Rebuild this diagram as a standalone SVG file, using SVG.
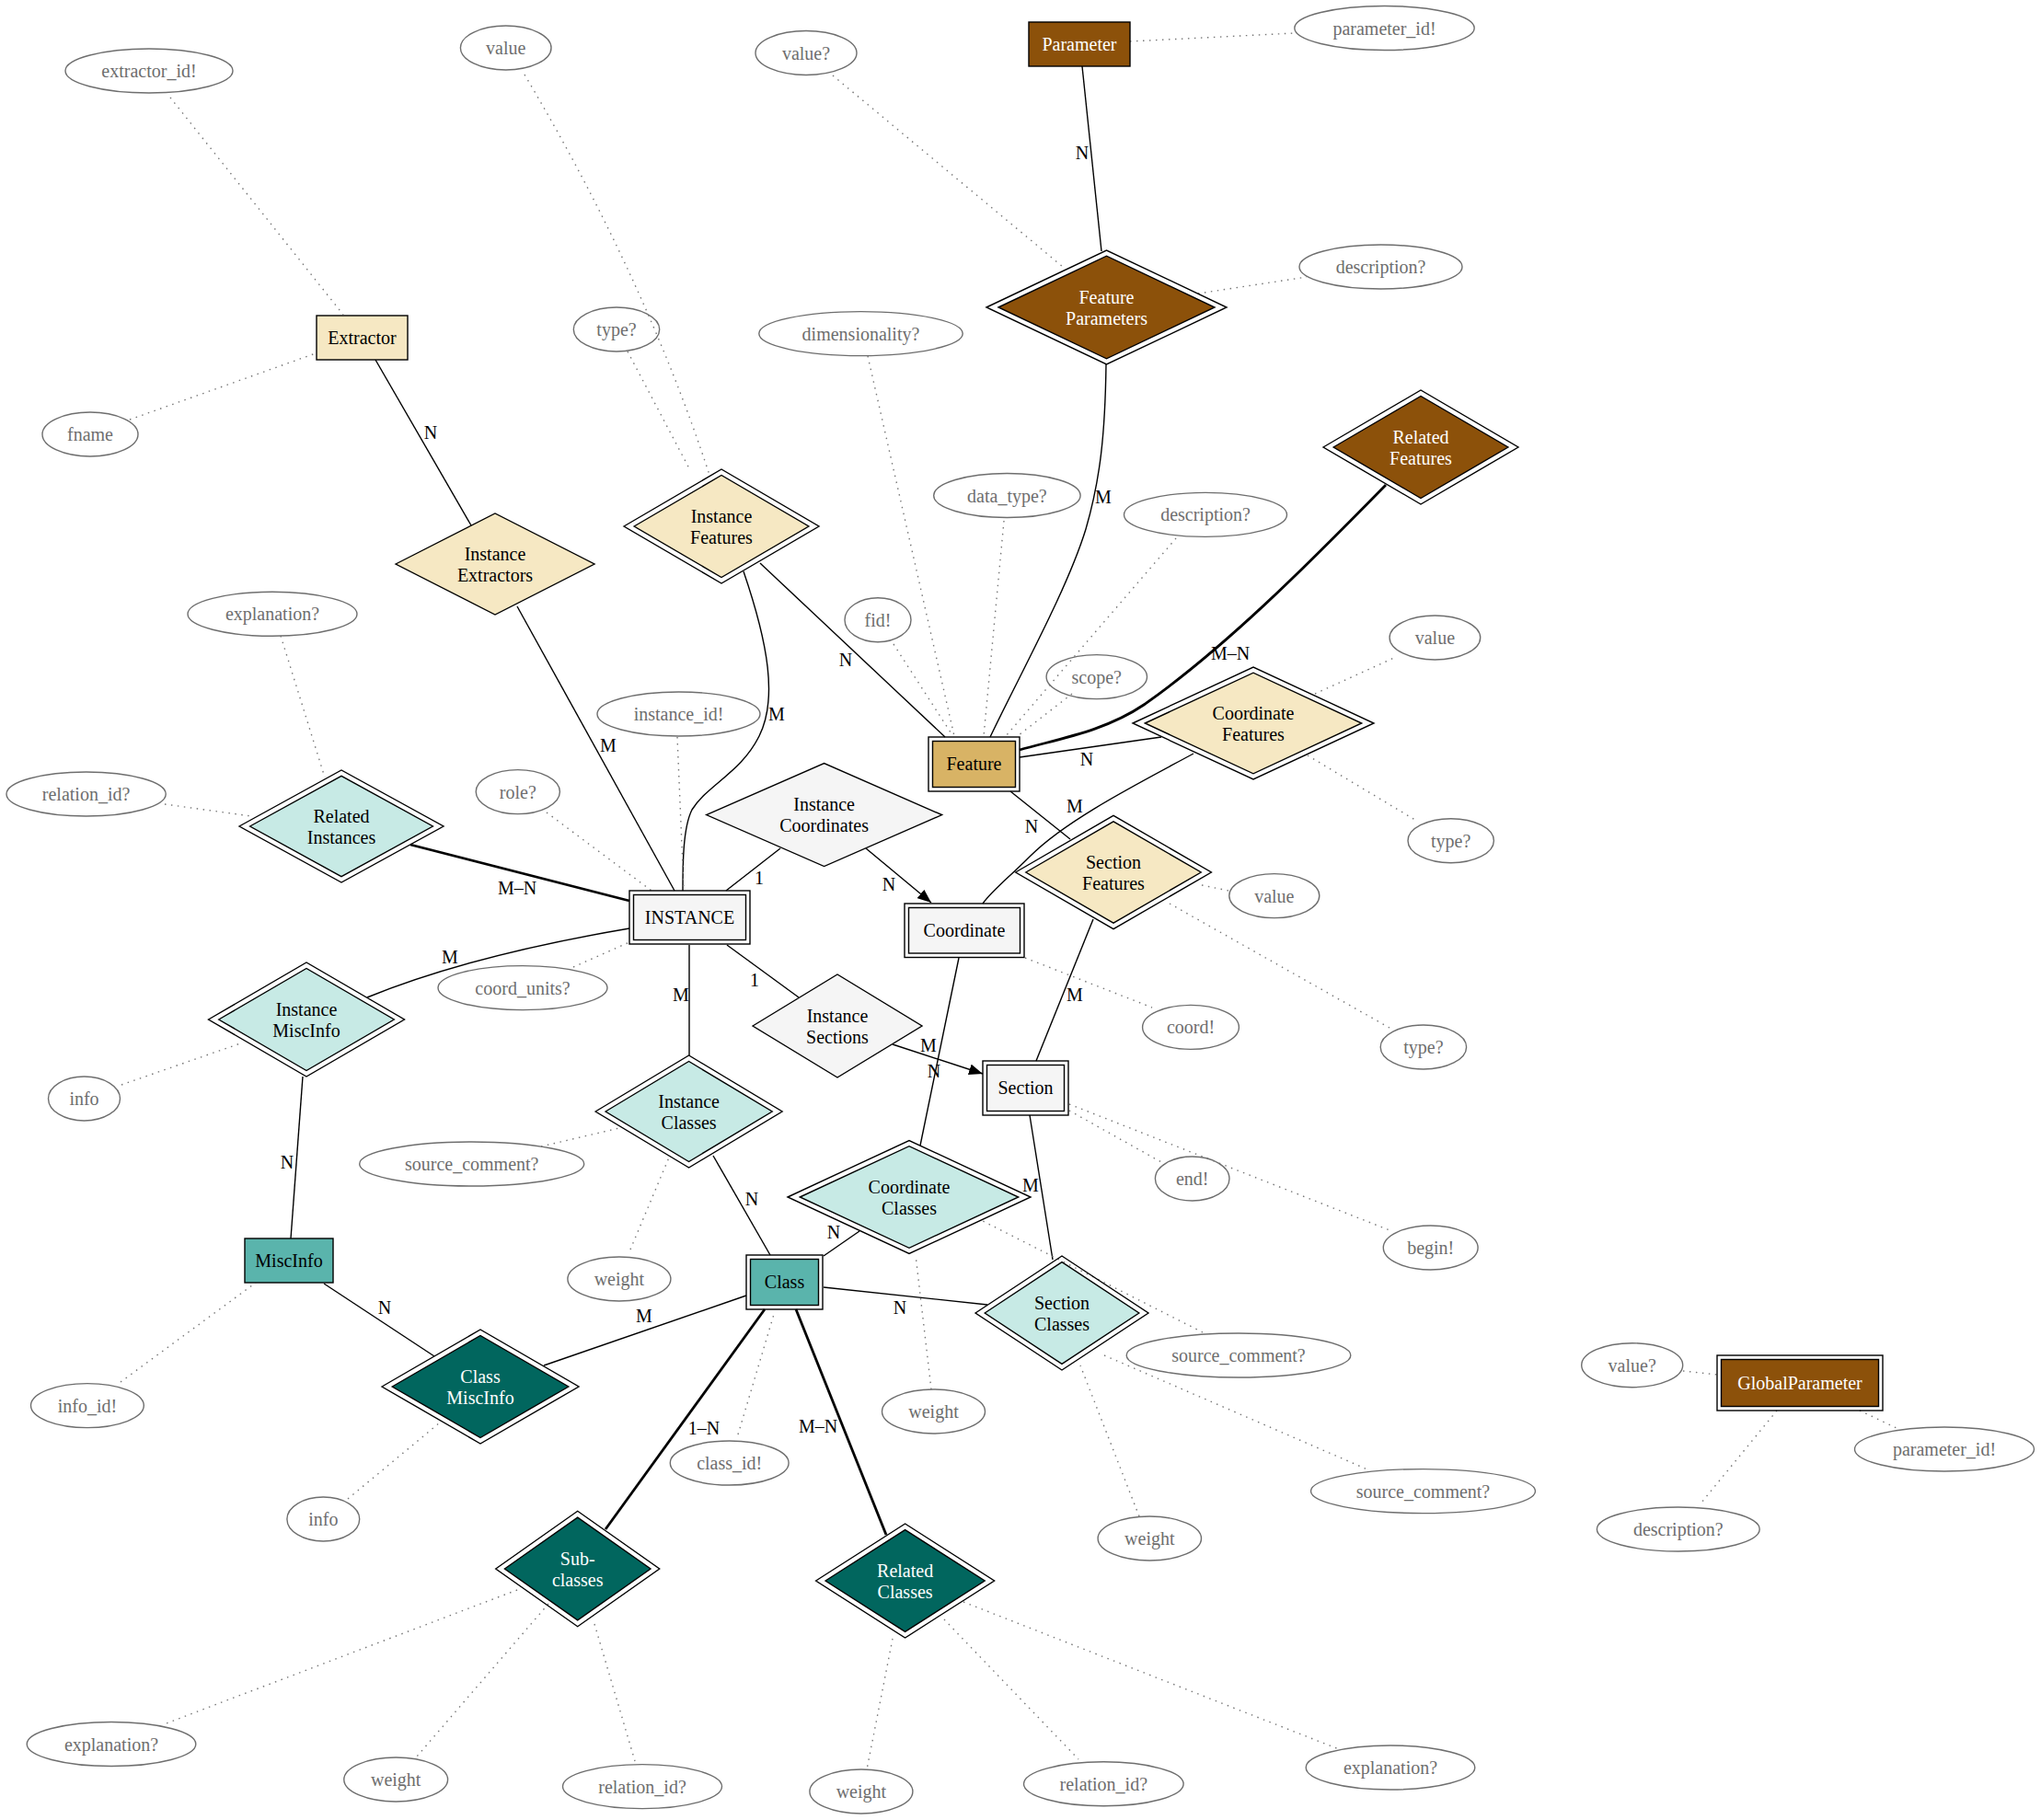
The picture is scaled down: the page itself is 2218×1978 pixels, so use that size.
<svg xmlns="http://www.w3.org/2000/svg" width="2218" height="1978" viewBox="0 0 2218 1978">
<style>
text{font-family:"Liberation Serif","Times New Roman",serif;font-size:20px;text-anchor:middle;fill:#000}
.w{fill:#fff}
.attr ellipse{fill:none;stroke:#6e6e6e;stroke-width:1.4}
.attr text{fill:#6e6e6e}
.n rect,.n polygon{stroke:#000;stroke-width:1.4}
.o{fill:none}
.e path{fill:none;stroke:#000;stroke-width:1.4}
.e path.b{stroke-width:2.8}
.e path.d{stroke:#777;stroke-width:1.4;stroke-dasharray:1.5 5.5}
.lbl text{fill:#000}
.brown{fill:#8c510a}.gold{fill:#d8b365}.wheat{fill:#f6e8c3}.gray{fill:#f5f5f5}.lteal{fill:#c7eae5}.teal{fill:#5ab4ac}.dteal{fill:#01665e}
</style>
<defs>
<marker id="arr" markerWidth="16" markerHeight="12" refX="15" refY="6" orient="auto" markerUnits="userSpaceOnUse"><path d="M0,0 L15,6 L0,12 z" fill="#000"/></marker>
</defs>
<rect width="2218" height="1978" fill="#fff"/>

<g id="connectors" class="e">
<!-- solid -->
<path d="M1176,72 L1197,273"/>
<path d="M1202,396 C1201,470 1196,520 1180,575 C1160,640 1110,730 1076,801"/>
<path d="M408,391 L512,571"/>
<path d="M562,659 L733,968"/>
<path d="M808,621 C835,700 845,760 825,800 C805,840 770,852 752,880 C742,900 742,940 742,968"/>
<path d="M826,612 L1027,801"/>
<path class="b" d="M1506,527 C1420,615 1330,705 1243,766 C1200,795 1150,803 1108,815"/>
<path d="M1262,801 L1108,823"/>
<path d="M1297,819 C1240,850 1160,890 1120,930 C1095,955 1078,968 1068,982"/>
<path d="M1098,860 L1163,912"/>
<path d="M1188,999 L1126,1153"/>
<path d="M848,922 L789,968"/>
<path d="M941,922 L1012,981" marker-end="url(#arr)"/>
<path d="M790,1027 L868,1084"/>
<path d="M970,1135 L1068,1167" marker-end="url(#arr)"/>
<path d="M1042,1041 L1000,1245"/>
<path d="M749,1027 L749,1147"/>
<path d="M399,1084 C470,1055 560,1030 684,1009"/>
<path class="b" d="M446,918 L684,979"/>
<path d="M329,1170 L316,1346"/>
<path d="M352,1395 L472,1474"/>
<path d="M591,1484 L811,1408"/>
<path d="M775,1256 L837,1364"/>
<path d="M934,1338 L895,1365"/>
<path d="M895,1399 L1073,1418"/>
<path d="M1119,1212 L1144,1369"/>
<path class="b" d="M831,1423 L658,1662"/>
<path class="b" d="M865,1423 L963,1668"/>
<!-- dotted -->
<path class="d" d="M185,106 L373,342"/>
<path class="d" d="M141,456 L343,384"/>
<path class="d" d="M570,81 Q700,300 771,516"/>
<path class="d" d="M682,382 L750,511"/>
<path class="d" d="M905,82 L1155,290"/>
<path class="d" d="M1228,45 L1407,36"/>
<path class="d" d="M1302,319 L1420,301"/>
<path class="d" d="M943,387 L1037,800"/>
<path class="d" d="M1091,566 L1069,800"/>
<path class="d" d="M1278,585 L1093,800"/>
<path class="d" d="M971,700 L1035,799"/>
<path class="d" d="M1165,754 L1107,799"/>
<path class="d" d="M736,801 L743,967"/>
<path class="d" d="M594,883 L708,968"/>
<path class="d" d="M623,1051 L684,1024"/>
<path class="d" d="M305,691 L353,845"/>
<path class="d" d="M179,874 L273,887"/>
<path class="d" d="M132,1179 L264,1133"/>
<path class="d" d="M588,1246 L673,1226"/>
<path class="d" d="M685,1358 L727,1258"/>
<path class="d" d="M131,1502 L278,1394"/>
<path class="d" d="M378,1629 L478,1546"/>
<path class="d" d="M802,1559 L842,1425"/>
<path class="d" d="M1012,1510 L995,1364"/>
<path class="d" d="M1307,1448 L1068,1327"/>
<path class="d" d="M1200,1473 L1486,1597"/>
<path class="d" d="M1238,1648 L1174,1484"/>
<path class="d" d="M1114,1041 L1252,1095"/>
<path class="d" d="M1306,962 L1335,968"/>
<path class="d" d="M1271,982 L1510,1117"/>
<path class="d" d="M1162,1207 L1262,1263"/>
<path class="d" d="M1162,1200 L1510,1337"/>
<path class="d" d="M1429,754 L1517,714"/>
<path class="d" d="M1421,821 L1541,893"/>
<path class="d" d="M1829,1490 L1866,1494"/>
<path class="d" d="M2021,1533 L2061,1552"/>
<path class="d" d="M1931,1533 L1849,1633"/>
<path class="d" d="M562,1728 L178,1874"/>
<path class="d" d="M596,1743 L453,1909"/>
<path class="d" d="M646,1765 L690,1914"/>
<path class="d" d="M970,1781 L942,1923"/>
<path class="d" d="M1026,1760 L1172,1912"/>
<path class="d" d="M1047,1741 L1455,1901"/>
</g>

<g id="edge-labels" class="lbl">
<text x="1176" y="173">N</text>
<text x="1199" y="547">M</text>
<text x="468" y="477">N</text>
<text x="661" y="817">M</text>
<text x="844" y="783">M</text>
<text x="919" y="724">N</text>
<text x="1337" y="717">M–N</text>
<text x="1181" y="832">N</text>
<text x="1168" y="883">M</text>
<text x="1121" y="905">N</text>
<text x="1168" y="1088">M</text>
<text x="825" y="961">1</text>
<text x="966" y="968">N</text>
<text x="820" y="1072">1</text>
<text x="1009" y="1143">M</text>
<text x="1015" y="1171">N</text>
<text x="740" y="1088">M</text>
<text x="489" y="1047">M</text>
<text x="562" y="972">M–N</text>
<text x="312" y="1270">N</text>
<text x="418" y="1428">N</text>
<text x="700" y="1437">M</text>
<text x="817" y="1310">N</text>
<text x="906" y="1346">N</text>
<text x="978" y="1428">N</text>
<text x="1120" y="1295">M</text>
<text x="765" y="1559">1–N</text>
<text x="889" y="1557">M–N</text>
</g>

<!-- entities -->
<g id="Parameter" class="n"><rect class="brown" x="1118" y="24" width="110" height="48"/><text class="w" x="1173" y="55">Parameter</text></g>
<g id="Extractor" class="n"><rect class="wheat" x="344" y="343" width="99" height="48"/><text x="393.5" y="374">Extractor</text></g>
<g id="Feature" class="n"><rect class="o" x="1009" y="801" width="99" height="59"/><rect class="gold" x="1013.5" y="805.5" width="90" height="50"/><text x="1058.5" y="837">Feature</text></g>
<g id="INSTANCE" class="n"><rect class="o" x="684" y="968" width="131" height="58"/><rect class="gray" x="688.5" y="972.5" width="122" height="49"/><text x="749.5" y="1004">INSTANCE</text></g>
<g id="Coordinate" class="n"><rect class="o" x="983" y="982" width="130" height="58.5"/><rect class="gray" x="987.5" y="986.5" width="121" height="49.5"/><text x="1048" y="1018">Coordinate</text></g>
<g id="Section" class="n"><rect class="o" x="1068" y="1153" width="93" height="59"/><rect class="gray" x="1072.5" y="1157.5" width="84" height="50"/><text x="1114.5" y="1189">Section</text></g>
<g id="Class" class="n"><rect class="o" x="811" y="1364" width="83" height="59"/><rect class="teal" x="815.5" y="1368.5" width="74" height="50"/><text x="852.5" y="1400">Class</text></g>
<g id="MiscInfo" class="n"><rect class="teal" x="266" y="1346" width="96" height="48"/><text x="314" y="1377">MiscInfo</text></g>
<g id="GlobalParameter" class="n"><rect class="o" x="1866" y="1473" width="180" height="60"/><rect class="brown" x="1870.5" y="1477.5" width="171" height="51"/><text class="w" x="1956" y="1510">GlobalParameter</text></g>

<!-- relationships -->
<g id="FeatureParameters" class="n"><polygon class="o" points="1072,334 1202.5,272 1333,334 1202.5,396"/><polygon class="brown" points="1085,334 1202.5,278.2 1320,334 1202.5,389.8"/><text class="w" x="1202.5" y="330">Feature</text><text class="w" x="1202.5" y="353">Parameters</text></g>
<g id="RelatedFeatures" class="n"><polygon class="o" points="1438,486 1544,424 1650,486 1544,548"/><polygon class="brown" points="1449.1,486 1544,430.5 1638.9,486 1544,541.5"/><text class="w" x="1544" y="482">Related</text><text class="w" x="1544" y="505">Features</text></g>
<g id="InstanceFeatures" class="n"><polygon class="o" points="678,572 784,510 890,572 784,634"/><polygon class="wheat" points="689.1,572 784,516.5 878.9,572 784,627.5"/><text x="784" y="568">Instance</text><text x="784" y="591">Features</text></g>
<g id="InstanceExtractors" class="n"><polygon class="wheat" points="430,613 538,558 646,613 538,668"/><text x="538" y="609">Instance</text><text x="538" y="632">Extractors</text></g>
<g id="RelatedInstances" class="n"><polygon class="o" points="260,898 371,837 482,898 371,959"/><polygon class="lteal" points="271.6,898 371,843.4 470.4,898 371,952.6"/><text x="371" y="894">Related</text><text x="371" y="917">Instances</text></g>
<g id="InstanceMiscInfo" class="n"><polygon class="o" points="226.5,1108 333,1046 439.5,1108 333,1170"/><polygon class="lteal" points="237.7,1108 333,1052.5 428.3,1108 333,1163.5"/><text x="333" y="1104">Instance</text><text x="333" y="1127">MiscInfo</text></g>
<g id="InstanceCoordinates" class="n"><polygon class="gray" points="767.6,885.6 895.6,829.6 1023.6,885.6 895.6,941.6"/><text x="895.6" y="881">Instance</text><text x="895.6" y="904">Coordinates</text></g>
<g id="InstanceSections" class="n"><polygon class="gray" points="818,1115 910,1059 1002,1115 910,1171"/><text x="910" y="1111">Instance</text><text x="910" y="1134">Sections</text></g>
<g id="CoordinateFeatures" class="n"><polygon class="o" points="1231,786 1362,725 1493,786 1362,847"/><polygon class="wheat" points="1244.3,786 1362,731.2 1479.7,786 1362,840.8"/><text x="1362" y="782">Coordinate</text><text x="1362" y="805">Features</text></g>
<g id="SectionFeatures" class="n"><polygon class="o" points="1103.6,948 1210,886.4 1316.4,948 1210,1009.6"/><polygon class="wheat" points="1114.8,948 1210,892.9 1305.2,948 1210,1003.1"/><text x="1210" y="944">Section</text><text x="1210" y="967">Features</text></g>
<g id="InstanceClasses" class="n"><polygon class="o" points="647.1,1208 748.6,1147 850.1,1208 748.6,1269"/><polygon class="lteal" points="658,1208 748.6,1153.5 839.2,1208 748.6,1262.5"/><text x="748.6" y="1204">Instance</text><text x="748.6" y="1227">Classes</text></g>
<g id="CoordinateClasses" class="n"><polygon class="o" points="856,1301 988,1239.5 1120,1301 988,1362.5"/><polygon class="lteal" points="869.3,1301 988,1245.7 1106.7,1301 988,1356.3"/><text x="988" y="1297">Coordinate</text><text x="988" y="1320">Classes</text></g>
<g id="SectionClasses" class="n"><polygon class="o" points="1060,1427 1154,1365 1248,1427 1154,1489"/><polygon class="lteal" points="1070.2,1427 1154,1371.7 1237.8,1427 1154,1482.3"/><text x="1154" y="1423">Section</text><text x="1154" y="1446">Classes</text></g>
<g id="ClassMiscInfo" class="n"><polygon class="o" points="415,1507 522,1445 629,1507 522,1569"/><polygon class="dteal" points="426.2,1507 522,1451.5 617.8,1507 522,1562.5"/><text class="w" x="522" y="1503">Class</text><text class="w" x="522" y="1526">MiscInfo</text></g>
<g id="Subclasses" class="n"><polygon class="o" points="538.7,1705 627.7,1642.3 716.7,1705 627.7,1767.7"/><polygon class="dteal" points="548.4,1705 627.7,1649.2 707,1705 627.7,1760.8"/><text class="w" x="627.7" y="1701">Sub-</text><text class="w" x="627.7" y="1724">classes</text></g>
<g id="RelatedClasses" class="n"><polygon class="o" points="886.6,1718 983.6,1656 1080.6,1718 983.6,1780"/><polygon class="dteal" points="897,1718 983.6,1662.6 1070.2,1718 983.6,1773.4"/><text class="w" x="983.6" y="1714">Related</text><text class="w" x="983.6" y="1737">Classes</text></g>

<!-- attributes -->
<g id="a_extractor_id" class="attr"><ellipse cx="162" cy="77" rx="91" ry="24"/><text x="162" y="84">extractor_id!</text></g>
<g id="a_fname" class="attr"><ellipse cx="98" cy="472" rx="52" ry="24"/><text x="98" y="479">fname</text></g>
<g id="a_if_value" class="attr"><ellipse cx="549.7" cy="52" rx="49.3" ry="24"/><text x="549.7" y="59">value</text></g>
<g id="a_if_type" class="attr"><ellipse cx="670" cy="358" rx="46.7" ry="24"/><text x="670" y="365">type?</text></g>
<g id="a_fp_value" class="attr"><ellipse cx="876" cy="57.5" rx="55" ry="24"/><text x="876" y="64.5">value?</text></g>
<g id="a_param_id" class="attr"><ellipse cx="1504.5" cy="30.5" rx="97.7" ry="24"/><text x="1504.5" y="37.5">parameter_id!</text></g>
<g id="a_fp_desc" class="attr"><ellipse cx="1500.5" cy="290" rx="88.5" ry="24"/><text x="1500.5" y="297">description?</text></g>
<g id="a_dim" class="attr"><ellipse cx="935.5" cy="362.6" rx="110.7" ry="24"/><text x="935.5" y="369.6">dimensionality?</text></g>
<g id="a_dtype" class="attr"><ellipse cx="1094.4" cy="538.5" rx="79.7" ry="24"/><text x="1094.4" y="545.5">data_type?</text></g>
<g id="a_f_desc" class="attr"><ellipse cx="1310" cy="559.4" rx="88.5" ry="24"/><text x="1310" y="566.4">description?</text></g>
<g id="a_fid" class="attr"><ellipse cx="954" cy="673.7" rx="36" ry="24"/><text x="954" y="680.7">fid!</text></g>
<g id="a_scope" class="attr"><ellipse cx="1191.8" cy="735.6" rx="54.7" ry="24"/><text x="1191.8" y="742.6">scope?</text></g>
<g id="a_ri_expl" class="attr"><ellipse cx="296" cy="667.3" rx="92" ry="24"/><text x="296" y="674.3">explanation?</text></g>
<g id="a_ri_rel" class="attr"><ellipse cx="93.6" cy="863" rx="86.6" ry="24"/><text x="93.6" y="870">relation_id?</text></g>
<g id="a_instance_id" class="attr"><ellipse cx="737.5" cy="776" rx="88.5" ry="24"/><text x="737.5" y="783">instance_id!</text></g>
<g id="a_role" class="attr"><ellipse cx="562.8" cy="860.6" rx="45.6" ry="24"/><text x="562.8" y="867.6">role?</text></g>
<g id="a_coord_units" class="attr"><ellipse cx="568" cy="1073.6" rx="92" ry="24"/><text x="568" y="1080.6">coord_units?</text></g>
<g id="a_imi_info" class="attr"><ellipse cx="91.5" cy="1194" rx="39" ry="24"/><text x="91.5" y="1201">info</text></g>
<g id="a_ic_src" class="attr"><ellipse cx="512.7" cy="1265" rx="122" ry="24"/><text x="512.7" y="1272">source_comment?</text></g>
<g id="a_ic_weight" class="attr"><ellipse cx="672.9" cy="1390" rx="56" ry="24"/><text x="672.9" y="1397">weight</text></g>
<g id="a_info_id" class="attr"><ellipse cx="94.9" cy="1527.6" rx="61.4" ry="24"/><text x="94.9" y="1534.6">info_id!</text></g>
<g id="a_cmi_info" class="attr"><ellipse cx="351.3" cy="1651" rx="39.4" ry="24"/><text x="351.3" y="1658">info</text></g>
<g id="a_sub_expl" class="attr"><ellipse cx="121" cy="1895.5" rx="91.8" ry="24"/><text x="121" y="1902.5">explanation?</text></g>
<g id="a_sub_weight" class="attr"><ellipse cx="430.2" cy="1934" rx="56.4" ry="24"/><text x="430.2" y="1941">weight</text></g>
<g id="a_sub_rel" class="attr"><ellipse cx="698" cy="1941.6" rx="86.5" ry="24"/><text x="698" y="1948.6">relation_id?</text></g>
<g id="a_cc_weight" class="attr"><ellipse cx="1014.5" cy="1534" rx="56" ry="24"/><text x="1014.5" y="1541">weight</text></g>
<g id="a_class_id" class="attr"><ellipse cx="792.7" cy="1590" rx="64.4" ry="24"/><text x="792.7" y="1597">class_id!</text></g>
<g id="a_cc_src" class="attr"><ellipse cx="1346" cy="1473" rx="121.8" ry="24"/><text x="1346" y="1480">source_comment?</text></g>
<g id="a_sc_weight" class="attr"><ellipse cx="1249.3" cy="1672" rx="56.2" ry="24"/><text x="1249.3" y="1679">weight</text></g>
<g id="a_rc_weight" class="attr"><ellipse cx="935.9" cy="1947" rx="56" ry="24"/><text x="935.9" y="1954">weight</text></g>
<g id="a_rc_rel" class="attr"><ellipse cx="1199.3" cy="1938.8" rx="86.8" ry="24"/><text x="1199.3" y="1945.8">relation_id?</text></g>
<g id="a_rc_expl" class="attr"><ellipse cx="1511" cy="1921" rx="91.8" ry="24"/><text x="1511" y="1928">explanation?</text></g>
<g id="a_begin" class="attr"><ellipse cx="1554.7" cy="1356" rx="51.4" ry="24"/><text x="1554.7" y="1363">begin!</text></g>
<g id="a_end" class="attr"><ellipse cx="1295.7" cy="1281" rx="40.3" ry="24"/><text x="1295.7" y="1288">end!</text></g>
<g id="a_sc_src" class="attr"><ellipse cx="1546.5" cy="1620.6" rx="122" ry="24"/><text x="1546.5" y="1627.6">source_comment?</text></g>
<g id="a_gp_value" class="attr"><ellipse cx="1773.7" cy="1483.7" rx="55" ry="24"/><text x="1773.7" y="1490.7">value?</text></g>
<g id="a_gp_param_id" class="attr"><ellipse cx="2113" cy="1575" rx="97.5" ry="24"/><text x="2113" y="1582">parameter_id!</text></g>
<g id="a_gp_desc" class="attr"><ellipse cx="1823.8" cy="1662" rx="88.4" ry="24"/><text x="1823.8" y="1669">description?</text></g>
<g id="a_coord" class="attr"><ellipse cx="1294" cy="1116.4" rx="52.4" ry="24"/><text x="1294" y="1123.4">coord!</text></g>
<g id="a_sf_value" class="attr"><ellipse cx="1384.8" cy="973.6" rx="49" ry="24"/><text x="1384.8" y="980.6">value</text></g>
<g id="a_sf_type" class="attr"><ellipse cx="1546.9" cy="1138" rx="46.7" ry="24"/><text x="1546.9" y="1145">type?</text></g>
<g id="a_cf_value" class="attr"><ellipse cx="1559.4" cy="693" rx="49.3" ry="24"/><text x="1559.4" y="700">value</text></g>
<g id="a_cf_type" class="attr"><ellipse cx="1576.7" cy="913.7" rx="46.7" ry="24"/><text x="1576.7" y="920.7">type?</text></g>
</svg>
